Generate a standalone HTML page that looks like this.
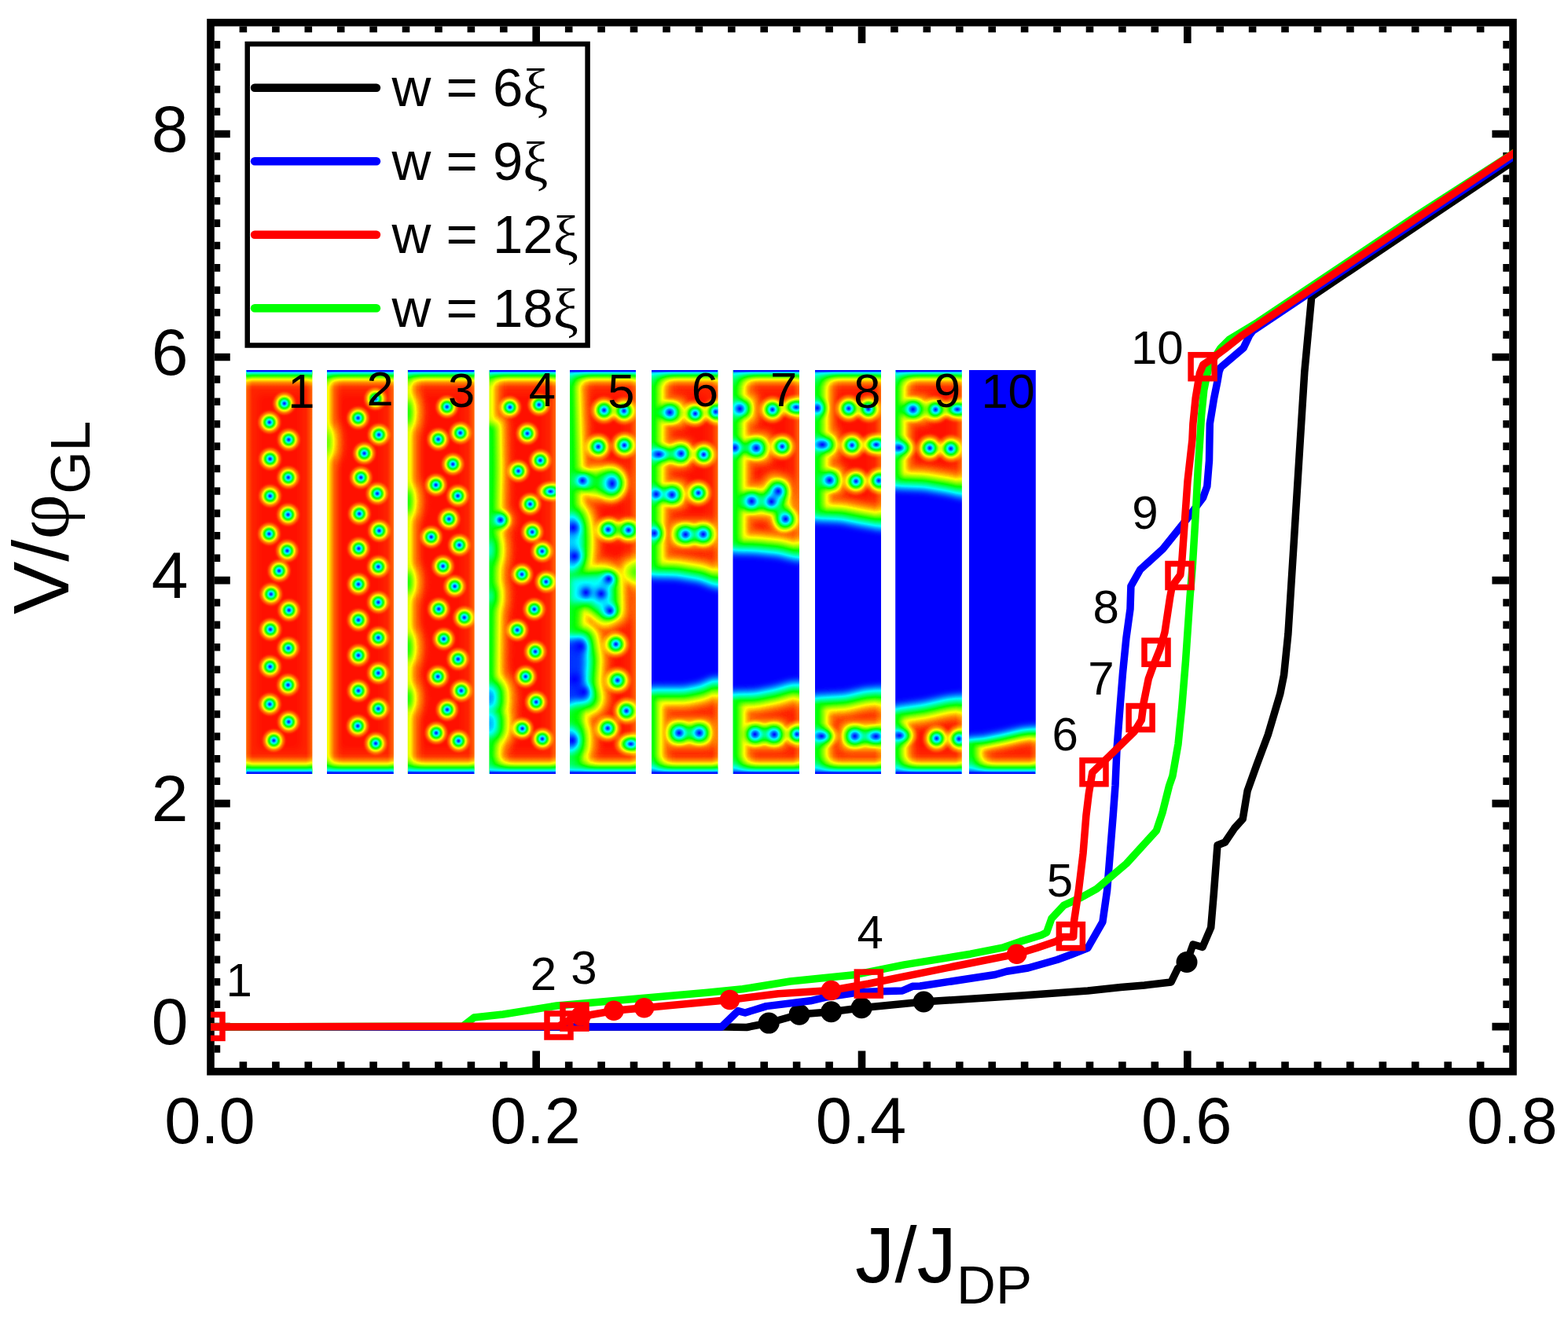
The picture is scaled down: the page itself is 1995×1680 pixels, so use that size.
<!DOCTYPE html><html><head><meta charset="utf-8"><style>html,body{margin:0;padding:0;background:#fff;}svg{display:block;}text{font-family:"Liberation Sans",Arial,sans-serif;fill:#000;}</style></head><body>
<svg width="1995" height="1680" viewBox="0 0 1995 1680">
<rect width="1995" height="1680" fill="#fff"/>
<defs>
<filter id="jet" x="300" y="460" width="1030" height="540" color-interpolation-filters="sRGB" filterUnits="userSpaceOnUse"><feComponentTransfer><feFuncR type="table" tableValues="0 0 0 1 1"/><feFuncG type="table" tableValues="0 1 1 1 0"/><feFuncB type="table" tableValues="1 1 0 0 0"/></feComponentTransfer></filter>
<filter id="b2" filterUnits="userSpaceOnUse" x="280" y="420" width="1080" height="620" color-interpolation-filters="sRGB"><feGaussianBlur stdDeviation="2"/></filter>
<filter id="b3" filterUnits="userSpaceOnUse" x="280" y="420" width="1080" height="620" color-interpolation-filters="sRGB"><feGaussianBlur stdDeviation="3"/></filter>
<filter id="b4" filterUnits="userSpaceOnUse" x="280" y="420" width="1080" height="620" color-interpolation-filters="sRGB"><feGaussianBlur stdDeviation="4"/></filter>
<filter id="b5" filterUnits="userSpaceOnUse" x="280" y="420" width="1080" height="620" color-interpolation-filters="sRGB"><feGaussianBlur stdDeviation="5"/></filter>
<filter id="b6" filterUnits="userSpaceOnUse" x="280" y="420" width="1080" height="620" color-interpolation-filters="sRGB"><feGaussianBlur stdDeviation="6"/></filter>
<filter id="b7" filterUnits="userSpaceOnUse" x="280" y="420" width="1080" height="620" color-interpolation-filters="sRGB"><feGaussianBlur stdDeviation="7"/></filter>
<filter id="b8" filterUnits="userSpaceOnUse" x="280" y="420" width="1080" height="620" color-interpolation-filters="sRGB"><feGaussianBlur stdDeviation="8"/></filter>
<radialGradient id="vg"><stop offset="0" stop-color="#000" stop-opacity="1"/><stop offset="0.105" stop-color="#000" stop-opacity="0.88"/><stop offset="0.21" stop-color="#000" stop-opacity="0.74"/><stop offset="0.372" stop-color="#000" stop-opacity="0.485"/><stop offset="0.556" stop-color="#000" stop-opacity="0.227"/><stop offset="0.717" stop-color="#000" stop-opacity="0.1"/><stop offset="0.9" stop-color="#000" stop-opacity="0.015"/><stop offset="1" stop-color="#000" stop-opacity="0"/></radialGradient>
<linearGradient id="tg" x1="0" y1="0" x2="0" y2="1"><stop offset="0.000" stop-opacity="1"/><stop offset="0.062" stop-opacity="0.97"/><stop offset="0.123" stop-opacity="0.74"/><stop offset="0.269" stop-opacity="0.48"/><stop offset="0.462" stop-opacity="0.22"/><stop offset="0.615" stop-opacity="0.1"/><stop offset="0.808" stop-opacity="0.02"/><stop offset="1.000" stop-opacity="0"/></linearGradient>
<linearGradient id="bg" x1="0" y1="1" x2="0" y2="0"><stop offset="0.000" stop-opacity="1"/><stop offset="0.069" stop-opacity="0.97"/><stop offset="0.154" stop-opacity="0.74"/><stop offset="0.308" stop-opacity="0.48"/><stop offset="0.500" stop-opacity="0.22"/><stop offset="0.654" stop-opacity="0.1"/><stop offset="0.846" stop-opacity="0.02"/><stop offset="1.000" stop-opacity="0"/></linearGradient>
<linearGradient id="lg" x1="0" y1="0" x2="1" y2="0"><stop offset="0" stop-opacity="0.07"/><stop offset="1" stop-opacity="0"/></linearGradient>
<linearGradient id="rg" x1="1" y1="0" x2="0" y2="0"><stop offset="0" stop-opacity="0.07"/><stop offset="1" stop-opacity="0"/></linearGradient>
<clipPath id="cp1"><rect x="313.1" y="471.0" width="84.5" height="514.0"/></clipPath>
<clipPath id="cp2"><rect x="416.0" y="471.0" width="84.9" height="514.0"/></clipPath>
<clipPath id="cp3"><rect x="518.7" y="471.0" width="85.1" height="514.0"/></clipPath>
<clipPath id="cp4"><rect x="622.4" y="471.0" width="84.6" height="514.0"/></clipPath>
<clipPath id="cp5"><rect x="724.9" y="471.0" width="84.2" height="514.0"/></clipPath>
<clipPath id="cp6"><rect x="829.0" y="471.0" width="84.7" height="514.0"/></clipPath>
<clipPath id="cp7"><rect x="932.5" y="471.0" width="84.5" height="514.0"/></clipPath>
<clipPath id="cp8"><rect x="1037.0" y="471.0" width="84.0" height="514.0"/></clipPath>
<clipPath id="cp9"><rect x="1139.2" y="471.0" width="84.7" height="514.0"/></clipPath>
<clipPath id="cp10"><rect x="1233.0" y="471.0" width="84.8" height="514.0"/></clipPath>
</defs>
<g filter="url(#jet)">
<g clip-path="url(#cp1)">
<rect x="313.1" y="471.0" width="84.5" height="514.0" fill="rgb(246,246,246)"/>
<g filter="url(#b6)"><rect x="327.1" y="501.0" width="56.5" height="454.0" fill="#fff" fill-opacity="0.6"/></g>
<rect x="313.1" y="471.0" width="8" height="514.0" fill="url(#lg)"/>
<rect x="389.6" y="471.0" width="8" height="514.0" fill="url(#rg)"/>
<rect x="313.1" y="471.0" width="84.5" height="26" fill="url(#tg)"/>
<rect x="313.1" y="959.0" width="84.5" height="26" fill="url(#bg)"/>
<ellipse cx="361.8" cy="513.5" rx="16.7" ry="16.7" fill="url(#vg)"/>
<ellipse cx="342.8" cy="537.5" rx="16.7" ry="16.7" fill="url(#vg)"/>
<ellipse cx="367.3" cy="559.6" rx="16.7" ry="16.7" fill="url(#vg)"/>
<ellipse cx="343.6" cy="584.1" rx="16.7" ry="16.7" fill="url(#vg)"/>
<ellipse cx="366.8" cy="607.7" rx="16.7" ry="16.7" fill="url(#vg)"/>
<ellipse cx="343.6" cy="631.3" rx="16.7" ry="16.7" fill="url(#vg)"/>
<ellipse cx="366.5" cy="655" rx="16.7" ry="16.7" fill="url(#vg)"/>
<ellipse cx="342.4" cy="679.5" rx="16.7" ry="16.7" fill="url(#vg)"/>
<ellipse cx="365.4" cy="701" rx="16.7" ry="16.7" fill="url(#vg)"/>
<ellipse cx="355.1" cy="726.5" rx="16.7" ry="16.7" fill="url(#vg)"/>
<ellipse cx="344.8" cy="756.2" rx="16.7" ry="16.7" fill="url(#vg)"/>
<ellipse cx="367.7" cy="776.6" rx="16.7" ry="16.7" fill="url(#vg)"/>
<ellipse cx="344" cy="801.1" rx="16.7" ry="16.7" fill="url(#vg)"/>
<ellipse cx="366.9" cy="824.9" rx="16.7" ry="16.7" fill="url(#vg)"/>
<ellipse cx="343.6" cy="848.5" rx="16.7" ry="16.7" fill="url(#vg)"/>
<ellipse cx="366.5" cy="871.8" rx="16.7" ry="16.7" fill="url(#vg)"/>
<ellipse cx="343.2" cy="896.3" rx="16.7" ry="16.7" fill="url(#vg)"/>
<ellipse cx="367.3" cy="918.7" rx="16.7" ry="16.7" fill="url(#vg)"/>
<ellipse cx="348.4" cy="942.5" rx="16.7" ry="16.7" fill="url(#vg)"/>
</g>
<g clip-path="url(#cp2)">
<rect x="416.0" y="471.0" width="84.9" height="514.0" fill="rgb(246,246,246)"/>
<g filter="url(#b6)"><rect x="430.0" y="501.0" width="56.9" height="454.0" fill="#fff" fill-opacity="0.6"/></g>
<rect x="406" y="478" width="14" height="500" fill="rgb(230,230,230)" filter="url(#b4)" style="mix-blend-mode:darken" stroke="rgb(230,230,230)" stroke-width="16" stroke-linejoin="round"/>
<rect x="406" y="478" width="14" height="500" fill="rgb(191,191,191)" filter="url(#b4)" style="mix-blend-mode:darken"/>
<ellipse cx="417" cy="563" rx="3" ry="14" fill="rgb(230,230,230)" filter="url(#b4)" style="mix-blend-mode:darken" stroke="rgb(230,230,230)" stroke-width="32" stroke-linejoin="round"/>
<ellipse cx="417" cy="563" rx="3" ry="14" fill="rgb(191,191,191)" filter="url(#b4)" style="mix-blend-mode:darken" stroke="rgb(191,191,191)" stroke-width="16" stroke-linejoin="round"/>
<ellipse cx="417" cy="563" rx="3" ry="14" fill="rgb(140,140,140)" filter="url(#b4)" style="mix-blend-mode:darken"/>
<rect x="416.0" y="471.0" width="8" height="514.0" fill="url(#lg)"/>
<rect x="492.9" y="471.0" width="8" height="514.0" fill="url(#rg)"/>
<rect x="416.0" y="471.0" width="84.9" height="26" fill="url(#tg)"/>
<rect x="416.0" y="959.0" width="84.9" height="26" fill="url(#bg)"/>
<ellipse cx="477.7" cy="507.6" rx="16.7" ry="16.7" fill="url(#vg)"/>
<ellipse cx="455.6" cy="532" rx="16.7" ry="16.7" fill="url(#vg)"/>
<ellipse cx="482.1" cy="553.3" rx="16.7" ry="16.7" fill="url(#vg)"/>
<ellipse cx="463.5" cy="577" rx="16.7" ry="16.7" fill="url(#vg)"/>
<ellipse cx="459.2" cy="607.7" rx="16.7" ry="16.7" fill="url(#vg)"/>
<ellipse cx="480" cy="628.2" rx="16.7" ry="16.7" fill="url(#vg)"/>
<ellipse cx="457.2" cy="653.9" rx="16.7" ry="16.7" fill="url(#vg)"/>
<ellipse cx="482.4" cy="675.5" rx="16.7" ry="16.7" fill="url(#vg)"/>
<ellipse cx="456.4" cy="698.1" rx="16.7" ry="16.7" fill="url(#vg)"/>
<ellipse cx="481.3" cy="721.3" rx="16.7" ry="16.7" fill="url(#vg)"/>
<ellipse cx="456" cy="743.6" rx="16.7" ry="16.7" fill="url(#vg)"/>
<ellipse cx="481.3" cy="766.6" rx="16.7" ry="16.7" fill="url(#vg)"/>
<ellipse cx="456" cy="789.1" rx="16.7" ry="16.7" fill="url(#vg)"/>
<ellipse cx="481.3" cy="811.6" rx="16.7" ry="16.7" fill="url(#vg)"/>
<ellipse cx="456" cy="834.1" rx="16.7" ry="16.7" fill="url(#vg)"/>
<ellipse cx="481.3" cy="856.6" rx="16.7" ry="16.7" fill="url(#vg)"/>
<ellipse cx="456" cy="879.1" rx="16.7" ry="16.7" fill="url(#vg)"/>
<ellipse cx="481.3" cy="902" rx="16.7" ry="16.7" fill="url(#vg)"/>
<ellipse cx="455.2" cy="924" rx="16.7" ry="16.7" fill="url(#vg)"/>
<ellipse cx="478" cy="946.2" rx="16.7" ry="16.7" fill="url(#vg)"/>
</g>
<g clip-path="url(#cp3)">
<rect x="518.7" y="471.0" width="85.1" height="514.0" fill="rgb(246,246,246)"/>
<g filter="url(#b6)"><rect x="532.7" y="501.0" width="57.1" height="454.0" fill="#fff" fill-opacity="0.6"/></g>
<rect x="508" y="478" width="17" height="500" fill="rgb(230,230,230)" filter="url(#b4)" style="mix-blend-mode:darken" stroke="rgb(230,230,230)" stroke-width="16" stroke-linejoin="round"/>
<rect x="508" y="478" width="17" height="500" fill="rgb(191,191,191)" filter="url(#b4)" style="mix-blend-mode:darken"/>
<ellipse cx="519" cy="525" rx="5" ry="16" fill="rgb(230,230,230)" filter="url(#b4)" style="mix-blend-mode:darken" stroke="rgb(230,230,230)" stroke-width="32" stroke-linejoin="round"/>
<ellipse cx="519" cy="525" rx="5" ry="16" fill="rgb(191,191,191)" filter="url(#b4)" style="mix-blend-mode:darken" stroke="rgb(191,191,191)" stroke-width="16" stroke-linejoin="round"/>
<ellipse cx="519" cy="525" rx="5" ry="16" fill="rgb(128,128,128)" filter="url(#b4)" style="mix-blend-mode:darken"/>
<ellipse cx="519" cy="638" rx="5" ry="16" fill="rgb(230,230,230)" filter="url(#b4)" style="mix-blend-mode:darken" stroke="rgb(230,230,230)" stroke-width="32" stroke-linejoin="round"/>
<ellipse cx="519" cy="638" rx="5" ry="16" fill="rgb(191,191,191)" filter="url(#b4)" style="mix-blend-mode:darken" stroke="rgb(191,191,191)" stroke-width="16" stroke-linejoin="round"/>
<ellipse cx="519" cy="638" rx="5" ry="16" fill="rgb(128,128,128)" filter="url(#b4)" style="mix-blend-mode:darken"/>
<ellipse cx="519" cy="741" rx="5" ry="14" fill="rgb(230,230,230)" filter="url(#b4)" style="mix-blend-mode:darken" stroke="rgb(230,230,230)" stroke-width="32" stroke-linejoin="round"/>
<ellipse cx="519" cy="741" rx="5" ry="14" fill="rgb(191,191,191)" filter="url(#b4)" style="mix-blend-mode:darken" stroke="rgb(191,191,191)" stroke-width="16" stroke-linejoin="round"/>
<ellipse cx="519" cy="741" rx="5" ry="14" fill="rgb(128,128,128)" filter="url(#b4)" style="mix-blend-mode:darken"/>
<ellipse cx="519" cy="824" rx="5" ry="16" fill="rgb(230,230,230)" filter="url(#b4)" style="mix-blend-mode:darken" stroke="rgb(230,230,230)" stroke-width="32" stroke-linejoin="round"/>
<ellipse cx="519" cy="824" rx="5" ry="16" fill="rgb(191,191,191)" filter="url(#b4)" style="mix-blend-mode:darken" stroke="rgb(191,191,191)" stroke-width="16" stroke-linejoin="round"/>
<ellipse cx="519" cy="824" rx="5" ry="16" fill="rgb(128,128,128)" filter="url(#b4)" style="mix-blend-mode:darken"/>
<ellipse cx="519" cy="889" rx="5" ry="13" fill="rgb(230,230,230)" filter="url(#b4)" style="mix-blend-mode:darken" stroke="rgb(230,230,230)" stroke-width="32" stroke-linejoin="round"/>
<ellipse cx="519" cy="889" rx="5" ry="13" fill="rgb(191,191,191)" filter="url(#b4)" style="mix-blend-mode:darken" stroke="rgb(191,191,191)" stroke-width="16" stroke-linejoin="round"/>
<ellipse cx="519" cy="889" rx="5" ry="13" fill="rgb(128,128,128)" filter="url(#b4)" style="mix-blend-mode:darken"/>
<rect x="518.7" y="471.0" width="8" height="514.0" fill="url(#lg)"/>
<rect x="595.8" y="471.0" width="8" height="514.0" fill="url(#rg)"/>
<rect x="518.7" y="471.0" width="85.1" height="26" fill="url(#tg)"/>
<rect x="518.7" y="959.0" width="85.1" height="26" fill="url(#bg)"/>
<ellipse cx="568.7" cy="517.8" rx="16.7" ry="16.7" fill="url(#vg)"/>
<ellipse cx="585.7" cy="551" rx="16.7" ry="16.7" fill="url(#vg)"/>
<ellipse cx="557.6" cy="559.1" rx="16.7" ry="16.7" fill="url(#vg)"/>
<ellipse cx="576.2" cy="590.8" rx="16.7" ry="16.7" fill="url(#vg)"/>
<ellipse cx="554.6" cy="617.2" rx="16.7" ry="16.7" fill="url(#vg)"/>
<ellipse cx="582.5" cy="631.1" rx="16.7" ry="16.7" fill="url(#vg)"/>
<ellipse cx="571.2" cy="660.6" rx="16.7" ry="16.7" fill="url(#vg)"/>
<ellipse cx="548.6" cy="683.4" rx="16.7" ry="16.7" fill="url(#vg)"/>
<ellipse cx="584.4" cy="693.7" rx="16.7" ry="16.7" fill="url(#vg)"/>
<ellipse cx="563.6" cy="720.6" rx="16.7" ry="16.7" fill="url(#vg)"/>
<ellipse cx="578.6" cy="746.2" rx="16.7" ry="16.7" fill="url(#vg)"/>
<ellipse cx="558.2" cy="775.1" rx="16.7" ry="16.7" fill="url(#vg)"/>
<ellipse cx="590.7" cy="785.9" rx="16.7" ry="16.7" fill="url(#vg)"/>
<ellipse cx="564.6" cy="813.2" rx="16.7" ry="16.7" fill="url(#vg)"/>
<ellipse cx="582.8" cy="838.9" rx="16.7" ry="16.7" fill="url(#vg)"/>
<ellipse cx="557.1" cy="861.1" rx="16.7" ry="16.7" fill="url(#vg)"/>
<ellipse cx="586.8" cy="879.1" rx="16.7" ry="16.7" fill="url(#vg)"/>
<ellipse cx="569" cy="903.2" rx="16.7" ry="16.7" fill="url(#vg)"/>
<ellipse cx="555" cy="932.9" rx="16.7" ry="16.7" fill="url(#vg)"/>
<ellipse cx="583.4" cy="943" rx="16.7" ry="16.7" fill="url(#vg)"/>
</g>
<g clip-path="url(#cp4)">
<rect x="622.4" y="471.0" width="84.6" height="514.0" fill="rgb(246,246,246)"/>
<g filter="url(#b6)"><rect x="636.4" y="501.0" width="56.6" height="454.0" fill="#fff" fill-opacity="0.6"/></g>
<rect x="612" y="478" width="18" height="82" fill="rgb(230,230,230)" filter="url(#b4)" style="mix-blend-mode:darken" stroke="rgb(230,230,230)" stroke-width="16" stroke-linejoin="round"/>
<rect x="612" y="478" width="18" height="82" fill="rgb(191,191,191)" filter="url(#b4)" style="mix-blend-mode:darken"/>
<path d="M612.0,540.0L632.0,540.0L633.0,600.0L632.0,650.0L640.0,662.0L632.0,675.0L631.0,760.0L630.0,860.0L632.0,930.0L630.0,975.0L612.0,975.0Z" fill="rgb(230,230,230)" filter="url(#b4)" style="mix-blend-mode:darken" stroke="rgb(230,230,230)" stroke-width="32" stroke-linejoin="round"/>
<path d="M612.0,540.0L632.0,540.0L633.0,600.0L632.0,650.0L640.0,662.0L632.0,675.0L631.0,760.0L630.0,860.0L632.0,930.0L630.0,975.0L612.0,975.0Z" fill="rgb(191,191,191)" filter="url(#b4)" style="mix-blend-mode:darken" stroke="rgb(191,191,191)" stroke-width="16" stroke-linejoin="round"/>
<path d="M612.0,540.0L632.0,540.0L633.0,600.0L632.0,650.0L640.0,662.0L632.0,675.0L631.0,760.0L630.0,860.0L632.0,930.0L630.0,975.0L612.0,975.0Z" fill="rgb(128,128,128)" filter="url(#b4)" style="mix-blend-mode:darken"/>
<ellipse cx="623" cy="700" rx="4" ry="12" fill="rgb(230,230,230)" filter="url(#b4)" style="mix-blend-mode:darken" stroke="rgb(230,230,230)" stroke-width="48" stroke-linejoin="round"/>
<ellipse cx="623" cy="700" rx="4" ry="12" fill="rgb(191,191,191)" filter="url(#b4)" style="mix-blend-mode:darken" stroke="rgb(191,191,191)" stroke-width="32" stroke-linejoin="round"/>
<ellipse cx="623" cy="700" rx="4" ry="12" fill="rgb(128,128,128)" filter="url(#b4)" style="mix-blend-mode:darken" stroke="rgb(128,128,128)" stroke-width="16" stroke-linejoin="round"/>
<ellipse cx="623" cy="700" rx="4" ry="12" fill="rgb(64,64,64)" filter="url(#b4)" style="mix-blend-mode:darken"/>
<ellipse cx="623" cy="759" rx="3" ry="8" fill="rgb(230,230,230)" filter="url(#b4)" style="mix-blend-mode:darken" stroke="rgb(230,230,230)" stroke-width="48" stroke-linejoin="round"/>
<ellipse cx="623" cy="759" rx="3" ry="8" fill="rgb(191,191,191)" filter="url(#b4)" style="mix-blend-mode:darken" stroke="rgb(191,191,191)" stroke-width="32" stroke-linejoin="round"/>
<ellipse cx="623" cy="759" rx="3" ry="8" fill="rgb(128,128,128)" filter="url(#b4)" style="mix-blend-mode:darken" stroke="rgb(128,128,128)" stroke-width="16" stroke-linejoin="round"/>
<ellipse cx="623" cy="759" rx="3" ry="8" fill="rgb(64,64,64)" filter="url(#b4)" style="mix-blend-mode:darken"/>
<ellipse cx="623" cy="888" rx="4" ry="9" fill="rgb(230,230,230)" filter="url(#b4)" style="mix-blend-mode:darken" stroke="rgb(230,230,230)" stroke-width="64" stroke-linejoin="round"/>
<ellipse cx="623" cy="888" rx="4" ry="9" fill="rgb(191,191,191)" filter="url(#b4)" style="mix-blend-mode:darken" stroke="rgb(191,191,191)" stroke-width="48" stroke-linejoin="round"/>
<ellipse cx="623" cy="888" rx="4" ry="9" fill="rgb(128,128,128)" filter="url(#b4)" style="mix-blend-mode:darken" stroke="rgb(128,128,128)" stroke-width="32" stroke-linejoin="round"/>
<ellipse cx="623" cy="888" rx="4" ry="9" fill="rgb(64,64,64)" filter="url(#b4)" style="mix-blend-mode:darken" stroke="rgb(64,64,64)" stroke-width="16" stroke-linejoin="round"/>
<ellipse cx="623" cy="888" rx="4" ry="9" fill="rgb(26,26,26)" filter="url(#b4)" style="mix-blend-mode:darken"/>
<ellipse cx="623" cy="921" rx="4" ry="9" fill="rgb(230,230,230)" filter="url(#b4)" style="mix-blend-mode:darken" stroke="rgb(230,230,230)" stroke-width="64" stroke-linejoin="round"/>
<ellipse cx="623" cy="921" rx="4" ry="9" fill="rgb(191,191,191)" filter="url(#b4)" style="mix-blend-mode:darken" stroke="rgb(191,191,191)" stroke-width="48" stroke-linejoin="round"/>
<ellipse cx="623" cy="921" rx="4" ry="9" fill="rgb(128,128,128)" filter="url(#b4)" style="mix-blend-mode:darken" stroke="rgb(128,128,128)" stroke-width="32" stroke-linejoin="round"/>
<ellipse cx="623" cy="921" rx="4" ry="9" fill="rgb(64,64,64)" filter="url(#b4)" style="mix-blend-mode:darken" stroke="rgb(64,64,64)" stroke-width="16" stroke-linejoin="round"/>
<ellipse cx="623" cy="921" rx="4" ry="9" fill="rgb(38,38,38)" filter="url(#b4)" style="mix-blend-mode:darken"/>
<rect x="622.4" y="471.0" width="8" height="514.0" fill="url(#lg)"/>
<rect x="699.0" y="471.0" width="8" height="514.0" fill="url(#rg)"/>
<rect x="622.4" y="471.0" width="84.6" height="26" fill="url(#tg)"/>
<rect x="622.4" y="959.0" width="84.6" height="26" fill="url(#bg)"/>
<ellipse cx="648.8" cy="518.3" rx="16.7" ry="16.7" fill="url(#vg)"/>
<ellipse cx="685.8" cy="515.1" rx="16.7" ry="16.7" fill="url(#vg)"/>
<ellipse cx="670.9" cy="551.7" rx="16.7" ry="16.7" fill="url(#vg)"/>
<ellipse cx="687.4" cy="586" rx="16.7" ry="16.7" fill="url(#vg)"/>
<ellipse cx="659.5" cy="599.5" rx="16.7" ry="16.7" fill="url(#vg)"/>
<ellipse cx="700.5" cy="625.5" rx="20.9" ry="15.1" fill="url(#vg)"/>
<ellipse cx="674.5" cy="641.6" rx="16.7" ry="16.7" fill="url(#vg)"/>
<ellipse cx="637" cy="661.8" rx="16.7" ry="16.7" fill="url(#vg)"/>
<ellipse cx="677.2" cy="677.1" rx="16.7" ry="16.7" fill="url(#vg)"/>
<ellipse cx="689.8" cy="701.6" rx="16.7" ry="16.7" fill="url(#vg)"/>
<ellipse cx="664" cy="731" rx="16.7" ry="16.7" fill="url(#vg)"/>
<ellipse cx="694.8" cy="740.4" rx="16.7" ry="16.7" fill="url(#vg)"/>
<ellipse cx="679.8" cy="775.4" rx="16.7" ry="16.7" fill="url(#vg)"/>
<ellipse cx="658.1" cy="801.9" rx="16.7" ry="16.7" fill="url(#vg)"/>
<ellipse cx="681.1" cy="829.3" rx="16.7" ry="16.7" fill="url(#vg)"/>
<ellipse cx="668.7" cy="861.1" rx="16.7" ry="16.7" fill="url(#vg)"/>
<ellipse cx="682.2" cy="893.5" rx="16.7" ry="16.7" fill="url(#vg)"/>
<ellipse cx="664.6" cy="927.3" rx="16.7" ry="16.7" fill="url(#vg)"/>
<ellipse cx="690" cy="940.4" rx="16.7" ry="16.7" fill="url(#vg)"/>
</g>
<g clip-path="url(#cp5)">
<rect x="724.9" y="471.0" width="84.2" height="514.0" fill="rgb(246,246,246)"/>
<g filter="url(#b6)"><rect x="738.9" y="501.0" width="56.2" height="454.0" fill="#fff" fill-opacity="0.6"/></g>
<path d="M715.0,478.0L732.0,478.0L734.0,540.0L736.0,600.0L734.0,650.0L741.0,700.0L738.0,800.0L741.0,900.0L738.0,975.0L715.0,975.0Z" fill="rgb(230,230,230)" filter="url(#b4)" style="mix-blend-mode:darken" stroke="rgb(230,230,230)" stroke-width="32" stroke-linejoin="round"/>
<path d="M715.0,478.0L732.0,478.0L734.0,540.0L736.0,600.0L734.0,650.0L741.0,700.0L738.0,800.0L741.0,900.0L738.0,975.0L715.0,975.0Z" fill="rgb(191,191,191)" filter="url(#b4)" style="mix-blend-mode:darken" stroke="rgb(191,191,191)" stroke-width="16" stroke-linejoin="round"/>
<path d="M715.0,478.0L732.0,478.0L734.0,540.0L736.0,600.0L734.0,650.0L741.0,700.0L738.0,800.0L741.0,900.0L738.0,975.0L715.0,975.0Z" fill="rgb(128,128,128)" filter="url(#b4)" style="mix-blend-mode:darken"/>
<ellipse cx="728" cy="690" rx="5" ry="30" fill="rgb(230,230,230)" filter="url(#b4)" style="mix-blend-mode:darken" stroke="rgb(230,230,230)" stroke-width="64" stroke-linejoin="round"/>
<ellipse cx="728" cy="690" rx="5" ry="30" fill="rgb(191,191,191)" filter="url(#b4)" style="mix-blend-mode:darken" stroke="rgb(191,191,191)" stroke-width="48" stroke-linejoin="round"/>
<ellipse cx="728" cy="690" rx="5" ry="30" fill="rgb(128,128,128)" filter="url(#b4)" style="mix-blend-mode:darken" stroke="rgb(128,128,128)" stroke-width="32" stroke-linejoin="round"/>
<ellipse cx="728" cy="690" rx="5" ry="30" fill="rgb(64,64,64)" filter="url(#b4)" style="mix-blend-mode:darken" stroke="rgb(64,64,64)" stroke-width="16" stroke-linejoin="round"/>
<ellipse cx="728" cy="690" rx="5" ry="30" fill="rgb(51,51,51)" filter="url(#b4)" style="mix-blend-mode:darken"/>
<path d="M726.0,735.0L768.0,733.0L778.0,737.0L779.0,777.0L770.0,782.0L750.0,766.0L726.0,768.0Z" fill="rgb(230,230,230)" filter="url(#b4)" style="mix-blend-mode:darken" stroke="rgb(230,230,230)" stroke-width="48" stroke-linejoin="round"/>
<path d="M726.0,735.0L768.0,733.0L778.0,737.0L779.0,777.0L770.0,782.0L750.0,766.0L726.0,768.0Z" fill="rgb(191,191,191)" filter="url(#b4)" style="mix-blend-mode:darken" stroke="rgb(191,191,191)" stroke-width="32" stroke-linejoin="round"/>
<path d="M726.0,735.0L768.0,733.0L778.0,737.0L779.0,777.0L770.0,782.0L750.0,766.0L726.0,768.0Z" fill="rgb(128,128,128)" filter="url(#b4)" style="mix-blend-mode:darken" stroke="rgb(128,128,128)" stroke-width="16" stroke-linejoin="round"/>
<path d="M726.0,735.0L768.0,733.0L778.0,737.0L779.0,777.0L770.0,782.0L750.0,766.0L726.0,768.0Z" fill="rgb(64,64,64)" filter="url(#b4)" style="mix-blend-mode:darken"/>
<path d="M715.0,815.0L740.0,815.0L744.0,840.0L742.0,870.0L746.0,888.0L715.0,895.0Z" fill="rgb(230,230,230)" filter="url(#b4)" style="mix-blend-mode:darken" stroke="rgb(230,230,230)" stroke-width="64" stroke-linejoin="round"/>
<path d="M715.0,815.0L740.0,815.0L744.0,840.0L742.0,870.0L746.0,888.0L715.0,895.0Z" fill="rgb(191,191,191)" filter="url(#b4)" style="mix-blend-mode:darken" stroke="rgb(191,191,191)" stroke-width="48" stroke-linejoin="round"/>
<path d="M715.0,815.0L740.0,815.0L744.0,840.0L742.0,870.0L746.0,888.0L715.0,895.0Z" fill="rgb(128,128,128)" filter="url(#b4)" style="mix-blend-mode:darken" stroke="rgb(128,128,128)" stroke-width="32" stroke-linejoin="round"/>
<path d="M715.0,815.0L740.0,815.0L744.0,840.0L742.0,870.0L746.0,888.0L715.0,895.0Z" fill="rgb(64,64,64)" filter="url(#b4)" style="mix-blend-mode:darken" stroke="rgb(64,64,64)" stroke-width="16" stroke-linejoin="round"/>
<path d="M715.0,815.0L740.0,815.0L744.0,840.0L742.0,870.0L746.0,888.0L715.0,895.0Z" fill="rgb(13,13,13)" filter="url(#b4)" style="mix-blend-mode:darken"/>
<ellipse cx="762" cy="614" rx="25" ry="12" fill="rgb(230,230,230)" filter="url(#b4)" style="mix-blend-mode:darken" stroke="rgb(230,230,230)" stroke-width="32" stroke-linejoin="round"/>
<ellipse cx="762" cy="614" rx="25" ry="12" fill="rgb(191,191,191)" filter="url(#b4)" style="mix-blend-mode:darken" stroke="rgb(191,191,191)" stroke-width="16" stroke-linejoin="round"/>
<ellipse cx="762" cy="614" rx="25" ry="12" fill="rgb(128,128,128)" filter="url(#b4)" style="mix-blend-mode:darken"/>
<ellipse cx="726" cy="942" rx="4" ry="10" fill="rgb(230,230,230)" filter="url(#b4)" style="mix-blend-mode:darken" stroke="rgb(230,230,230)" stroke-width="64" stroke-linejoin="round"/>
<ellipse cx="726" cy="942" rx="4" ry="10" fill="rgb(191,191,191)" filter="url(#b4)" style="mix-blend-mode:darken" stroke="rgb(191,191,191)" stroke-width="48" stroke-linejoin="round"/>
<ellipse cx="726" cy="942" rx="4" ry="10" fill="rgb(128,128,128)" filter="url(#b4)" style="mix-blend-mode:darken" stroke="rgb(128,128,128)" stroke-width="32" stroke-linejoin="round"/>
<ellipse cx="726" cy="942" rx="4" ry="10" fill="rgb(64,64,64)" filter="url(#b4)" style="mix-blend-mode:darken" stroke="rgb(64,64,64)" stroke-width="16" stroke-linejoin="round"/>
<ellipse cx="726" cy="942" rx="4" ry="10" fill="rgb(38,38,38)" filter="url(#b4)" style="mix-blend-mode:darken"/>
<ellipse cx="787" cy="674" rx="14" ry="6" fill="rgb(230,230,230)" filter="url(#b4)" style="mix-blend-mode:darken" stroke="rgb(230,230,230)" stroke-width="16" stroke-linejoin="round"/>
<ellipse cx="787" cy="674" rx="14" ry="6" fill="rgb(191,191,191)" filter="url(#b4)" style="mix-blend-mode:darken"/>
<ellipse cx="806" cy="728" rx="8" ry="8" fill="rgb(230,230,230)" filter="url(#b4)" style="mix-blend-mode:darken" stroke="rgb(230,230,230)" stroke-width="32" stroke-linejoin="round"/>
<ellipse cx="806" cy="728" rx="8" ry="8" fill="rgb(191,191,191)" filter="url(#b4)" style="mix-blend-mode:darken" stroke="rgb(191,191,191)" stroke-width="16" stroke-linejoin="round"/>
<ellipse cx="806" cy="728" rx="8" ry="8" fill="rgb(153,153,153)" filter="url(#b4)" style="mix-blend-mode:darken"/>
<rect x="724.9" y="471.0" width="8" height="514.0" fill="url(#lg)"/>
<rect x="801.1" y="471.0" width="8" height="514.0" fill="url(#rg)"/>
<rect x="724.9" y="471.0" width="84.2" height="26" fill="url(#tg)"/>
<rect x="724.9" y="959.0" width="84.2" height="26" fill="url(#bg)"/>
<ellipse cx="768.6" cy="522.1" rx="20.2" ry="20.2" fill="url(#vg)"/>
<ellipse cx="793.9" cy="523" rx="20.2" ry="20.2" fill="url(#vg)"/>
<ellipse cx="761.2" cy="568.6" rx="20.2" ry="20.2" fill="url(#vg)"/>
<ellipse cx="794.3" cy="566.7" rx="20.2" ry="20.2" fill="url(#vg)"/>
<ellipse cx="741" cy="611.7" rx="20.2" ry="20.2" fill="url(#vg)"/>
<ellipse cx="778.9" cy="615.6" rx="24.2" ry="30.2" fill="url(#vg)"/>
<ellipse cx="773.7" cy="674" rx="20.2" ry="20.2" fill="url(#vg)"/>
<ellipse cx="799.7" cy="674.7" rx="20.2" ry="20.2" fill="url(#vg)"/>
<ellipse cx="774.4" cy="736.9" rx="16.1" ry="16.1" fill="url(#vg)"/>
<ellipse cx="745.5" cy="754.1" rx="16.1" ry="16.1" fill="url(#vg)"/>
<ellipse cx="764.8" cy="755.7" rx="16.1" ry="16.1" fill="url(#vg)"/>
<ellipse cx="776.1" cy="777.5" rx="16.1" ry="16.1" fill="url(#vg)"/>
<ellipse cx="783.6" cy="819.9" rx="20.2" ry="20.2" fill="url(#vg)"/>
<ellipse cx="785.7" cy="865.9" rx="20.2" ry="20.2" fill="url(#vg)"/>
<ellipse cx="797" cy="904.8" rx="20.2" ry="20.2" fill="url(#vg)"/>
<ellipse cx="773.2" cy="926.9" rx="20.2" ry="20.2" fill="url(#vg)"/>
<ellipse cx="802.6" cy="946.9" rx="24.2" ry="18.1" fill="url(#vg)"/>
<ellipse cx="738.3" cy="822.8" rx="18.1" ry="18.1" fill="url(#vg)"/>
<ellipse cx="731.1" cy="864.6" rx="18.1" ry="18.1" fill="url(#vg)"/>
<ellipse cx="742.3" cy="880.7" rx="18.1" ry="18.1" fill="url(#vg)"/>
<ellipse cx="729.2" cy="671.6" rx="18.1" ry="18.1" fill="url(#vg)"/>
<ellipse cx="730.8" cy="707.9" rx="18.1" ry="18.1" fill="url(#vg)"/>
<ellipse cx="727.9" cy="942.5" rx="16.1" ry="16.1" fill="url(#vg)"/>
</g>
<g clip-path="url(#cp6)">
<rect x="829.0" y="471.0" width="84.7" height="514.0" fill="rgb(246,246,246)"/>
<g filter="url(#b6)"><rect x="843.0" y="501.0" width="56.7" height="454.0" fill="#fff" fill-opacity="0.6"/></g>
<rect x="819" y="478" width="19" height="262" fill="rgb(230,230,230)" filter="url(#b4)" style="mix-blend-mode:darken" stroke="rgb(230,230,230)" stroke-width="32" stroke-linejoin="round"/>
<rect x="819" y="478" width="19" height="262" fill="rgb(191,191,191)" filter="url(#b4)" style="mix-blend-mode:darken" stroke="rgb(191,191,191)" stroke-width="16" stroke-linejoin="round"/>
<rect x="819" y="478" width="19" height="262" fill="rgb(128,128,128)" filter="url(#b4)" style="mix-blend-mode:darken"/>
<rect x="829" y="519" width="33" height="12" fill="rgb(230,230,230)" filter="url(#b4)" style="mix-blend-mode:darken" stroke="rgb(230,230,230)" stroke-width="32" stroke-linejoin="round"/>
<rect x="829" y="519" width="33" height="12" fill="rgb(191,191,191)" filter="url(#b4)" style="mix-blend-mode:darken" stroke="rgb(191,191,191)" stroke-width="16" stroke-linejoin="round"/>
<rect x="829" y="519" width="33" height="12" fill="rgb(128,128,128)" filter="url(#b4)" style="mix-blend-mode:darken"/>
<rect x="829" y="573" width="39" height="10" fill="rgb(230,230,230)" filter="url(#b4)" style="mix-blend-mode:darken" stroke="rgb(230,230,230)" stroke-width="32" stroke-linejoin="round"/>
<rect x="829" y="573" width="39" height="10" fill="rgb(191,191,191)" filter="url(#b4)" style="mix-blend-mode:darken" stroke="rgb(191,191,191)" stroke-width="16" stroke-linejoin="round"/>
<rect x="829" y="573" width="39" height="10" fill="rgb(128,128,128)" filter="url(#b4)" style="mix-blend-mode:darken"/>
<rect x="829" y="623" width="33" height="12" fill="rgb(230,230,230)" filter="url(#b4)" style="mix-blend-mode:darken" stroke="rgb(230,230,230)" stroke-width="32" stroke-linejoin="round"/>
<rect x="829" y="623" width="33" height="12" fill="rgb(191,191,191)" filter="url(#b4)" style="mix-blend-mode:darken" stroke="rgb(191,191,191)" stroke-width="16" stroke-linejoin="round"/>
<rect x="829" y="623" width="33" height="12" fill="rgb(128,128,128)" filter="url(#b4)" style="mix-blend-mode:darken"/>
<rect x="862" y="675" width="38" height="10" fill="rgb(230,230,230)" filter="url(#b4)" style="mix-blend-mode:darken" stroke="rgb(230,230,230)" stroke-width="32" stroke-linejoin="round"/>
<rect x="862" y="675" width="38" height="10" fill="rgb(191,191,191)" filter="url(#b4)" style="mix-blend-mode:darken" stroke="rgb(191,191,191)" stroke-width="16" stroke-linejoin="round"/>
<rect x="862" y="675" width="38" height="10" fill="rgb(140,140,140)" filter="url(#b4)" style="mix-blend-mode:darken"/>
<path d="M815.0,735.0L860.0,736.0L890.0,741.0L905.0,747.0L925.0,752.0L925.0,861.0L905.0,863.0L890.0,870.0L870.0,874.0L815.0,874.0Z" fill="rgb(230,230,230)" filter="url(#b4)" style="mix-blend-mode:darken" stroke="rgb(230,230,230)" stroke-width="64" stroke-linejoin="round"/>
<path d="M815.0,735.0L860.0,736.0L890.0,741.0L905.0,747.0L925.0,752.0L925.0,861.0L905.0,863.0L890.0,870.0L870.0,874.0L815.0,874.0Z" fill="rgb(191,191,191)" filter="url(#b4)" style="mix-blend-mode:darken" stroke="rgb(191,191,191)" stroke-width="48" stroke-linejoin="round"/>
<path d="M815.0,735.0L860.0,736.0L890.0,741.0L905.0,747.0L925.0,752.0L925.0,861.0L905.0,863.0L890.0,870.0L870.0,874.0L815.0,874.0Z" fill="rgb(128,128,128)" filter="url(#b4)" style="mix-blend-mode:darken" stroke="rgb(128,128,128)" stroke-width="32" stroke-linejoin="round"/>
<path d="M815.0,735.0L860.0,736.0L890.0,741.0L905.0,747.0L925.0,752.0L925.0,861.0L905.0,863.0L890.0,870.0L870.0,874.0L815.0,874.0Z" fill="rgb(64,64,64)" filter="url(#b4)" style="mix-blend-mode:darken" stroke="rgb(64,64,64)" stroke-width="16" stroke-linejoin="round"/>
<path d="M815.0,735.0L860.0,736.0L890.0,741.0L905.0,747.0L925.0,752.0L925.0,861.0L905.0,863.0L890.0,870.0L870.0,874.0L815.0,874.0Z" fill="rgb(0,0,0)" filter="url(#b4)" style="mix-blend-mode:darken"/>
<rect x="819" y="874" width="17" height="111" fill="rgb(230,230,230)" filter="url(#b4)" style="mix-blend-mode:darken" stroke="rgb(230,230,230)" stroke-width="32" stroke-linejoin="round"/>
<rect x="819" y="874" width="17" height="111" fill="rgb(191,191,191)" filter="url(#b4)" style="mix-blend-mode:darken" stroke="rgb(191,191,191)" stroke-width="16" stroke-linejoin="round"/>
<rect x="819" y="874" width="17" height="111" fill="rgb(128,128,128)" filter="url(#b4)" style="mix-blend-mode:darken"/>
<rect x="856" y="926" width="41" height="13" fill="rgb(230,230,230)" filter="url(#b4)" style="mix-blend-mode:darken" stroke="rgb(230,230,230)" stroke-width="32" stroke-linejoin="round"/>
<rect x="856" y="926" width="41" height="13" fill="rgb(191,191,191)" filter="url(#b4)" style="mix-blend-mode:darken" stroke="rgb(191,191,191)" stroke-width="16" stroke-linejoin="round"/>
<rect x="856" y="926" width="41" height="13" fill="rgb(128,128,128)" filter="url(#b4)" style="mix-blend-mode:darken"/>
<rect x="829.0" y="471.0" width="8" height="514.0" fill="url(#lg)"/>
<rect x="905.7" y="471.0" width="8" height="514.0" fill="url(#rg)"/>
<rect x="829.0" y="471.0" width="84.7" height="26" fill="url(#tg)"/>
<rect x="829.0" y="959.0" width="84.7" height="26" fill="url(#bg)"/>
<ellipse cx="852.2" cy="524.9" rx="20.2" ry="20.2" fill="url(#vg)"/>
<ellipse cx="884.5" cy="526.5" rx="20.2" ry="20.2" fill="url(#vg)"/>
<ellipse cx="910.6" cy="524.1" rx="20.2" ry="20.2" fill="url(#vg)"/>
<ellipse cx="838" cy="578.2" rx="26.2" ry="18.1" fill="url(#vg)"/>
<ellipse cx="866.7" cy="577.3" rx="20.2" ry="20.2" fill="url(#vg)"/>
<ellipse cx="895.3" cy="578.5" rx="20.2" ry="20.2" fill="url(#vg)"/>
<ellipse cx="855" cy="629.8" rx="20.2" ry="20.2" fill="url(#vg)"/>
<ellipse cx="888.5" cy="627.4" rx="20.2" ry="20.2" fill="url(#vg)"/>
<ellipse cx="834.9" cy="629" rx="18.1" ry="18.1" fill="url(#vg)"/>
<ellipse cx="872.2" cy="680.3" rx="20.2" ry="20.2" fill="url(#vg)"/>
<ellipse cx="894.8" cy="680" rx="20.2" ry="20.2" fill="url(#vg)"/>
<ellipse cx="832.5" cy="678.7" rx="18.1" ry="18.1" fill="url(#vg)"/>
<ellipse cx="864" cy="932.9" rx="20.2" ry="20.2" fill="url(#vg)"/>
<ellipse cx="889.8" cy="932.9" rx="20.2" ry="20.2" fill="url(#vg)"/>
</g>
<g clip-path="url(#cp7)">
<rect x="932.5" y="471.0" width="84.5" height="514.0" fill="rgb(246,246,246)"/>
<g filter="url(#b6)"><rect x="946.5" y="501.0" width="56.5" height="454.0" fill="#fff" fill-opacity="0.6"/></g>
<rect x="922" y="478" width="20" height="232" fill="rgb(230,230,230)" filter="url(#b4)" style="mix-blend-mode:darken" stroke="rgb(230,230,230)" stroke-width="32" stroke-linejoin="round"/>
<rect x="922" y="478" width="20" height="232" fill="rgb(191,191,191)" filter="url(#b4)" style="mix-blend-mode:darken" stroke="rgb(191,191,191)" stroke-width="16" stroke-linejoin="round"/>
<rect x="922" y="478" width="20" height="232" fill="rgb(128,128,128)" filter="url(#b4)" style="mix-blend-mode:darken"/>
<rect x="933" y="512" width="19" height="16" fill="rgb(230,230,230)" filter="url(#b4)" style="mix-blend-mode:darken" stroke="rgb(230,230,230)" stroke-width="32" stroke-linejoin="round"/>
<rect x="933" y="512" width="19" height="16" fill="rgb(191,191,191)" filter="url(#b4)" style="mix-blend-mode:darken" stroke="rgb(191,191,191)" stroke-width="16" stroke-linejoin="round"/>
<rect x="933" y="512" width="19" height="16" fill="rgb(128,128,128)" filter="url(#b4)" style="mix-blend-mode:darken"/>
<rect x="933" y="563" width="37" height="14" fill="rgb(230,230,230)" filter="url(#b4)" style="mix-blend-mode:darken" stroke="rgb(230,230,230)" stroke-width="32" stroke-linejoin="round"/>
<rect x="933" y="563" width="37" height="14" fill="rgb(191,191,191)" filter="url(#b4)" style="mix-blend-mode:darken" stroke="rgb(191,191,191)" stroke-width="16" stroke-linejoin="round"/>
<rect x="933" y="563" width="37" height="14" fill="rgb(128,128,128)" filter="url(#b4)" style="mix-blend-mode:darken"/>
<path d="M933.0,628.0L975.0,628.0L985.0,615.0L995.0,618.0L1000.0,650.0L1003.0,665.0L995.0,668.0L985.0,648.0L933.0,648.0Z" fill="rgb(230,230,230)" filter="url(#b4)" style="mix-blend-mode:darken" stroke="rgb(230,230,230)" stroke-width="32" stroke-linejoin="round"/>
<path d="M933.0,628.0L975.0,628.0L985.0,615.0L995.0,618.0L1000.0,650.0L1003.0,665.0L995.0,668.0L985.0,648.0L933.0,648.0Z" fill="rgb(191,191,191)" filter="url(#b4)" style="mix-blend-mode:darken" stroke="rgb(191,191,191)" stroke-width="16" stroke-linejoin="round"/>
<path d="M933.0,628.0L975.0,628.0L985.0,615.0L995.0,618.0L1000.0,650.0L1003.0,665.0L995.0,668.0L985.0,648.0L933.0,648.0Z" fill="rgb(128,128,128)" filter="url(#b4)" style="mix-blend-mode:darken"/>
<path d="M920.0,704.0L960.0,705.0L990.0,708.0L1005.0,712.0L1030.0,717.0L1030.0,866.0L1005.0,868.0L985.0,874.0L960.0,879.0L920.0,880.0Z" fill="rgb(230,230,230)" filter="url(#b4)" style="mix-blend-mode:darken" stroke="rgb(230,230,230)" stroke-width="64" stroke-linejoin="round"/>
<path d="M920.0,704.0L960.0,705.0L990.0,708.0L1005.0,712.0L1030.0,717.0L1030.0,866.0L1005.0,868.0L985.0,874.0L960.0,879.0L920.0,880.0Z" fill="rgb(191,191,191)" filter="url(#b4)" style="mix-blend-mode:darken" stroke="rgb(191,191,191)" stroke-width="48" stroke-linejoin="round"/>
<path d="M920.0,704.0L960.0,705.0L990.0,708.0L1005.0,712.0L1030.0,717.0L1030.0,866.0L1005.0,868.0L985.0,874.0L960.0,879.0L920.0,880.0Z" fill="rgb(128,128,128)" filter="url(#b4)" style="mix-blend-mode:darken" stroke="rgb(128,128,128)" stroke-width="32" stroke-linejoin="round"/>
<path d="M920.0,704.0L960.0,705.0L990.0,708.0L1005.0,712.0L1030.0,717.0L1030.0,866.0L1005.0,868.0L985.0,874.0L960.0,879.0L920.0,880.0Z" fill="rgb(64,64,64)" filter="url(#b4)" style="mix-blend-mode:darken" stroke="rgb(64,64,64)" stroke-width="16" stroke-linejoin="round"/>
<path d="M920.0,704.0L960.0,705.0L990.0,708.0L1005.0,712.0L1030.0,717.0L1030.0,866.0L1005.0,868.0L985.0,874.0L960.0,879.0L920.0,880.0Z" fill="rgb(0,0,0)" filter="url(#b4)" style="mix-blend-mode:darken"/>
<rect x="922" y="880" width="20" height="105" fill="rgb(230,230,230)" filter="url(#b4)" style="mix-blend-mode:darken" stroke="rgb(230,230,230)" stroke-width="32" stroke-linejoin="round"/>
<rect x="922" y="880" width="20" height="105" fill="rgb(191,191,191)" filter="url(#b4)" style="mix-blend-mode:darken" stroke="rgb(191,191,191)" stroke-width="16" stroke-linejoin="round"/>
<rect x="922" y="880" width="20" height="105" fill="rgb(128,128,128)" filter="url(#b4)" style="mix-blend-mode:darken"/>
<rect x="955" y="928" width="35" height="13" fill="rgb(230,230,230)" filter="url(#b4)" style="mix-blend-mode:darken" stroke="rgb(230,230,230)" stroke-width="32" stroke-linejoin="round"/>
<rect x="955" y="928" width="35" height="13" fill="rgb(191,191,191)" filter="url(#b4)" style="mix-blend-mode:darken" stroke="rgb(191,191,191)" stroke-width="16" stroke-linejoin="round"/>
<rect x="955" y="928" width="35" height="13" fill="rgb(128,128,128)" filter="url(#b4)" style="mix-blend-mode:darken"/>
<rect x="932.5" y="471.0" width="8" height="514.0" fill="url(#lg)"/>
<rect x="1009.0" y="471.0" width="8" height="514.0" fill="url(#rg)"/>
<rect x="932.5" y="471.0" width="84.5" height="26" fill="url(#tg)"/>
<rect x="932.5" y="959.0" width="84.5" height="26" fill="url(#bg)"/>
<ellipse cx="941.3" cy="520.2" rx="20.2" ry="20.2" fill="url(#vg)"/>
<ellipse cx="982.8" cy="521.3" rx="20.2" ry="20.2" fill="url(#vg)"/>
<ellipse cx="1013" cy="518.3" rx="26.2" ry="18.1" fill="url(#vg)"/>
<ellipse cx="935" cy="569.9" rx="18.1" ry="18.1" fill="url(#vg)"/>
<ellipse cx="962.3" cy="570.3" rx="20.2" ry="20.2" fill="url(#vg)"/>
<ellipse cx="995.2" cy="568.3" rx="20.2" ry="20.2" fill="url(#vg)"/>
<ellipse cx="956.3" cy="638" rx="20.2" ry="20.2" fill="url(#vg)"/>
<ellipse cx="981.5" cy="638.5" rx="20.2" ry="20.2" fill="url(#vg)"/>
<ellipse cx="990.2" cy="625.1" rx="20.2" ry="20.2" fill="url(#vg)"/>
<ellipse cx="999.6" cy="660.6" rx="20.2" ry="20.2" fill="url(#vg)"/>
<ellipse cx="960.5" cy="934.5" rx="20.2" ry="20.2" fill="url(#vg)"/>
<ellipse cx="985.1" cy="934.8" rx="20.2" ry="20.2" fill="url(#vg)"/>
<ellipse cx="1014" cy="934.5" rx="20.2" ry="20.2" fill="url(#vg)"/>
</g>
<g clip-path="url(#cp8)">
<rect x="1037.0" y="471.0" width="84.0" height="514.0" fill="rgb(246,246,246)"/>
<g filter="url(#b6)"><rect x="1051.0" y="501.0" width="56.0" height="454.0" fill="#fff" fill-opacity="0.6"/></g>
<rect x="1027" y="478" width="20" height="192" fill="rgb(230,230,230)" filter="url(#b4)" style="mix-blend-mode:darken" stroke="rgb(230,230,230)" stroke-width="32" stroke-linejoin="round"/>
<rect x="1027" y="478" width="20" height="192" fill="rgb(191,191,191)" filter="url(#b4)" style="mix-blend-mode:darken" stroke="rgb(191,191,191)" stroke-width="16" stroke-linejoin="round"/>
<rect x="1027" y="478" width="20" height="192" fill="rgb(128,128,128)" filter="url(#b4)" style="mix-blend-mode:darken"/>
<rect x="1037" y="558" width="18" height="16" fill="rgb(230,230,230)" filter="url(#b4)" style="mix-blend-mode:darken" stroke="rgb(230,230,230)" stroke-width="32" stroke-linejoin="round"/>
<rect x="1037" y="558" width="18" height="16" fill="rgb(191,191,191)" filter="url(#b4)" style="mix-blend-mode:darken" stroke="rgb(191,191,191)" stroke-width="16" stroke-linejoin="round"/>
<rect x="1037" y="558" width="18" height="16" fill="rgb(128,128,128)" filter="url(#b4)" style="mix-blend-mode:darken"/>
<rect x="1037" y="604" width="25" height="14" fill="rgb(230,230,230)" filter="url(#b4)" style="mix-blend-mode:darken" stroke="rgb(230,230,230)" stroke-width="32" stroke-linejoin="round"/>
<rect x="1037" y="604" width="25" height="14" fill="rgb(191,191,191)" filter="url(#b4)" style="mix-blend-mode:darken" stroke="rgb(191,191,191)" stroke-width="16" stroke-linejoin="round"/>
<rect x="1037" y="604" width="25" height="14" fill="rgb(128,128,128)" filter="url(#b4)" style="mix-blend-mode:darken"/>
<path d="M1025.0,663.0L1070.0,665.0L1095.0,670.0L1135.0,677.0L1135.0,873.0L1100.0,876.0L1075.0,882.0L1025.0,885.0Z" fill="rgb(230,230,230)" filter="url(#b4)" style="mix-blend-mode:darken" stroke="rgb(230,230,230)" stroke-width="64" stroke-linejoin="round"/>
<path d="M1025.0,663.0L1070.0,665.0L1095.0,670.0L1135.0,677.0L1135.0,873.0L1100.0,876.0L1075.0,882.0L1025.0,885.0Z" fill="rgb(191,191,191)" filter="url(#b4)" style="mix-blend-mode:darken" stroke="rgb(191,191,191)" stroke-width="48" stroke-linejoin="round"/>
<path d="M1025.0,663.0L1070.0,665.0L1095.0,670.0L1135.0,677.0L1135.0,873.0L1100.0,876.0L1075.0,882.0L1025.0,885.0Z" fill="rgb(128,128,128)" filter="url(#b4)" style="mix-blend-mode:darken" stroke="rgb(128,128,128)" stroke-width="32" stroke-linejoin="round"/>
<path d="M1025.0,663.0L1070.0,665.0L1095.0,670.0L1135.0,677.0L1135.0,873.0L1100.0,876.0L1075.0,882.0L1025.0,885.0Z" fill="rgb(64,64,64)" filter="url(#b4)" style="mix-blend-mode:darken" stroke="rgb(64,64,64)" stroke-width="16" stroke-linejoin="round"/>
<path d="M1025.0,663.0L1070.0,665.0L1095.0,670.0L1135.0,677.0L1135.0,873.0L1100.0,876.0L1075.0,882.0L1025.0,885.0Z" fill="rgb(0,0,0)" filter="url(#b4)" style="mix-blend-mode:darken"/>
<rect x="1027" y="885" width="20" height="100" fill="rgb(230,230,230)" filter="url(#b4)" style="mix-blend-mode:darken" stroke="rgb(230,230,230)" stroke-width="32" stroke-linejoin="round"/>
<rect x="1027" y="885" width="20" height="100" fill="rgb(191,191,191)" filter="url(#b4)" style="mix-blend-mode:darken" stroke="rgb(191,191,191)" stroke-width="16" stroke-linejoin="round"/>
<rect x="1027" y="885" width="20" height="100" fill="rgb(128,128,128)" filter="url(#b4)" style="mix-blend-mode:darken"/>
<rect x="1080" y="930" width="41" height="14" fill="rgb(230,230,230)" filter="url(#b4)" style="mix-blend-mode:darken" stroke="rgb(230,230,230)" stroke-width="32" stroke-linejoin="round"/>
<rect x="1080" y="930" width="41" height="14" fill="rgb(191,191,191)" filter="url(#b4)" style="mix-blend-mode:darken" stroke="rgb(191,191,191)" stroke-width="16" stroke-linejoin="round"/>
<rect x="1080" y="930" width="41" height="14" fill="rgb(128,128,128)" filter="url(#b4)" style="mix-blend-mode:darken"/>
<rect x="1037.0" y="471.0" width="8" height="514.0" fill="url(#lg)"/>
<rect x="1113.0" y="471.0" width="8" height="514.0" fill="url(#rg)"/>
<rect x="1037.0" y="471.0" width="84.0" height="26" fill="url(#tg)"/>
<rect x="1037.0" y="959.0" width="84.0" height="26" fill="url(#bg)"/>
<ellipse cx="1039.9" cy="519.4" rx="18.1" ry="18.1" fill="url(#vg)"/>
<ellipse cx="1079.8" cy="519.9" rx="20.2" ry="20.2" fill="url(#vg)"/>
<ellipse cx="1104.8" cy="520.5" rx="20.2" ry="20.2" fill="url(#vg)"/>
<ellipse cx="1046.2" cy="565.9" rx="26.2" ry="18.1" fill="url(#vg)"/>
<ellipse cx="1084" cy="566.7" rx="20.2" ry="20.2" fill="url(#vg)"/>
<ellipse cx="1114.8" cy="565.9" rx="24.2" ry="18.1" fill="url(#vg)"/>
<ellipse cx="1055.6" cy="611.3" rx="20.2" ry="20.2" fill="url(#vg)"/>
<ellipse cx="1089.1" cy="612.5" rx="20.2" ry="20.2" fill="url(#vg)"/>
<ellipse cx="1118" cy="611.7" rx="20.2" ry="20.2" fill="url(#vg)"/>
<ellipse cx="1045.3" cy="936.9" rx="26.2" ry="18.1" fill="url(#vg)"/>
<ellipse cx="1087.6" cy="936.9" rx="20.2" ry="20.2" fill="url(#vg)"/>
<ellipse cx="1114.4" cy="937.2" rx="24.2" ry="18.1" fill="url(#vg)"/>
</g>
<g clip-path="url(#cp9)">
<rect x="1139.2" y="471.0" width="84.7" height="514.0" fill="rgb(246,246,246)"/>
<g filter="url(#b6)"><rect x="1153.2" y="501.0" width="56.7" height="454.0" fill="#fff" fill-opacity="0.6"/></g>
<rect x="1129" y="478" width="17" height="152" fill="rgb(230,230,230)" filter="url(#b4)" style="mix-blend-mode:darken" stroke="rgb(230,230,230)" stroke-width="32" stroke-linejoin="round"/>
<rect x="1129" y="478" width="17" height="152" fill="rgb(191,191,191)" filter="url(#b4)" style="mix-blend-mode:darken" stroke="rgb(191,191,191)" stroke-width="16" stroke-linejoin="round"/>
<rect x="1129" y="478" width="17" height="152" fill="rgb(128,128,128)" filter="url(#b4)" style="mix-blend-mode:darken"/>
<rect x="1139" y="516" width="33" height="10" fill="rgb(230,230,230)" filter="url(#b4)" style="mix-blend-mode:darken" stroke="rgb(230,230,230)" stroke-width="32" stroke-linejoin="round"/>
<rect x="1139" y="516" width="33" height="10" fill="rgb(191,191,191)" filter="url(#b4)" style="mix-blend-mode:darken" stroke="rgb(191,191,191)" stroke-width="16" stroke-linejoin="round"/>
<rect x="1139" y="516" width="33" height="10" fill="rgb(128,128,128)" filter="url(#b4)" style="mix-blend-mode:darken"/>
<path d="M1125.0,622.0L1175.0,624.0L1205.0,629.0L1235.0,636.0L1235.0,883.0L1205.0,886.0L1175.0,893.0L1125.0,900.0Z" fill="rgb(230,230,230)" filter="url(#b4)" style="mix-blend-mode:darken" stroke="rgb(230,230,230)" stroke-width="64" stroke-linejoin="round"/>
<path d="M1125.0,622.0L1175.0,624.0L1205.0,629.0L1235.0,636.0L1235.0,883.0L1205.0,886.0L1175.0,893.0L1125.0,900.0Z" fill="rgb(191,191,191)" filter="url(#b4)" style="mix-blend-mode:darken" stroke="rgb(191,191,191)" stroke-width="48" stroke-linejoin="round"/>
<path d="M1125.0,622.0L1175.0,624.0L1205.0,629.0L1235.0,636.0L1235.0,883.0L1205.0,886.0L1175.0,893.0L1125.0,900.0Z" fill="rgb(128,128,128)" filter="url(#b4)" style="mix-blend-mode:darken" stroke="rgb(128,128,128)" stroke-width="32" stroke-linejoin="round"/>
<path d="M1125.0,622.0L1175.0,624.0L1205.0,629.0L1235.0,636.0L1235.0,883.0L1205.0,886.0L1175.0,893.0L1125.0,900.0Z" fill="rgb(64,64,64)" filter="url(#b4)" style="mix-blend-mode:darken" stroke="rgb(64,64,64)" stroke-width="16" stroke-linejoin="round"/>
<path d="M1125.0,622.0L1175.0,624.0L1205.0,629.0L1235.0,636.0L1235.0,883.0L1205.0,886.0L1175.0,893.0L1125.0,900.0Z" fill="rgb(0,0,0)" filter="url(#b4)" style="mix-blend-mode:darken"/>
<rect x="1129" y="900" width="18" height="85" fill="rgb(230,230,230)" filter="url(#b4)" style="mix-blend-mode:darken" stroke="rgb(230,230,230)" stroke-width="32" stroke-linejoin="round"/>
<rect x="1129" y="900" width="18" height="85" fill="rgb(191,191,191)" filter="url(#b4)" style="mix-blend-mode:darken" stroke="rgb(191,191,191)" stroke-width="16" stroke-linejoin="round"/>
<rect x="1129" y="900" width="18" height="85" fill="rgb(128,128,128)" filter="url(#b4)" style="mix-blend-mode:darken"/>
<rect x="1139.2" y="471.0" width="8" height="514.0" fill="url(#lg)"/>
<rect x="1215.9" y="471.0" width="8" height="514.0" fill="url(#rg)"/>
<rect x="1139.2" y="471.0" width="84.7" height="26" fill="url(#tg)"/>
<rect x="1139.2" y="959.0" width="84.7" height="26" fill="url(#bg)"/>
<ellipse cx="1161.6" cy="521" rx="20.2" ry="20.2" fill="url(#vg)"/>
<ellipse cx="1190.4" cy="521.3" rx="20.2" ry="20.2" fill="url(#vg)"/>
<ellipse cx="1218" cy="521" rx="26.2" ry="18.1" fill="url(#vg)"/>
<ellipse cx="1183" cy="570.3" rx="20.2" ry="20.2" fill="url(#vg)"/>
<ellipse cx="1209.7" cy="571" rx="20.2" ry="20.2" fill="url(#vg)"/>
<ellipse cx="1143.9" cy="569.9" rx="26.2" ry="18.1" fill="url(#vg)"/>
<ellipse cx="1144.3" cy="936.1" rx="26.2" ry="18.1" fill="url(#vg)"/>
<ellipse cx="1191.7" cy="939.8" rx="20.2" ry="20.2" fill="url(#vg)"/>
<ellipse cx="1220" cy="940.4" rx="20.2" ry="20.2" fill="url(#vg)"/>
</g>
<g clip-path="url(#cp10)">
<rect x="1233.0" y="471.0" width="84.8" height="514.0" fill="rgb(246,246,246)"/>
<g filter="url(#b6)"><rect x="1247.0" y="501.0" width="56.8" height="454.0" fill="#fff" fill-opacity="0.6"/></g>
<path d="M1220.0,440.0L1330.0,440.0L1330.0,923.0L1300.0,926.0L1275.0,932.0L1250.0,937.0L1220.0,939.0Z" fill="rgb(230,230,230)" filter="url(#b4)" style="mix-blend-mode:darken" stroke="rgb(230,230,230)" stroke-width="44.0" stroke-linejoin="round"/>
<path d="M1220.0,440.0L1330.0,440.0L1330.0,923.0L1300.0,926.0L1275.0,932.0L1250.0,937.0L1220.0,939.0Z" fill="rgb(191,191,191)" filter="url(#b4)" style="mix-blend-mode:darken" stroke="rgb(191,191,191)" stroke-width="33.0" stroke-linejoin="round"/>
<path d="M1220.0,440.0L1330.0,440.0L1330.0,923.0L1300.0,926.0L1275.0,932.0L1250.0,937.0L1220.0,939.0Z" fill="rgb(128,128,128)" filter="url(#b4)" style="mix-blend-mode:darken" stroke="rgb(128,128,128)" stroke-width="22.0" stroke-linejoin="round"/>
<path d="M1220.0,440.0L1330.0,440.0L1330.0,923.0L1300.0,926.0L1275.0,932.0L1250.0,937.0L1220.0,939.0Z" fill="rgb(64,64,64)" filter="url(#b4)" style="mix-blend-mode:darken" stroke="rgb(64,64,64)" stroke-width="11.0" stroke-linejoin="round"/>
<path d="M1220.0,440.0L1330.0,440.0L1330.0,923.0L1300.0,926.0L1275.0,932.0L1250.0,937.0L1220.0,939.0Z" fill="rgb(0,0,0)" filter="url(#b4)" style="mix-blend-mode:darken"/>
<rect x="1223" y="939" width="20" height="46" fill="rgb(230,230,230)" filter="url(#b4)" style="mix-blend-mode:darken" stroke="rgb(230,230,230)" stroke-width="32" stroke-linejoin="round"/>
<rect x="1223" y="939" width="20" height="46" fill="rgb(191,191,191)" filter="url(#b4)" style="mix-blend-mode:darken" stroke="rgb(191,191,191)" stroke-width="16" stroke-linejoin="round"/>
<rect x="1223" y="939" width="20" height="46" fill="rgb(128,128,128)" filter="url(#b4)" style="mix-blend-mode:darken"/>
<rect x="1233.0" y="471.0" width="8" height="514.0" fill="url(#lg)"/>
<rect x="1309.8" y="471.0" width="8" height="514.0" fill="url(#rg)"/>
<rect x="1233.0" y="471.0" width="84.8" height="26" fill="url(#tg)"/>
<rect x="1233.0" y="959.0" width="84.8" height="26" fill="url(#bg)"/>
</g>
</g>
<text x="400.4" y="518.6" font-size="61.5" text-anchor="end">1</text>
<text x="500.8" y="516.3" font-size="61.5" text-anchor="end">2</text>
<text x="604.1" y="517.8" font-size="61.5" text-anchor="end">3</text>
<text x="706.9" y="517.0" font-size="61.5" text-anchor="end">4</text>
<text x="807.5" y="518.6" font-size="61.5" text-anchor="end">5</text>
<text x="913.9" y="517.0" font-size="61.5" text-anchor="end">6</text>
<text x="1014.1" y="517.0" font-size="61.5" text-anchor="end">7</text>
<text x="1120.5" y="519.4" font-size="61.5" text-anchor="end">8</text>
<text x="1222.2" y="517.8" font-size="61.5" text-anchor="end">9</text>
<text x="1316.8" y="519.4" font-size="61.5" text-anchor="end">10</text>
<path d="M309.4,1359.0v-7.8M309.4,33.5v7.8M350.9,1359.0v-7.8M350.9,33.5v7.8M392.3,1359.0v-7.8M392.3,33.5v7.8M433.7,1359.0v-7.8M433.7,33.5v7.8M475.1,1359.0v-7.8M475.1,33.5v7.8M516.5,1359.0v-7.8M516.5,33.5v7.8M558.0,1359.0v-7.8M558.0,33.5v7.8M599.4,1359.0v-7.8M599.4,33.5v7.8M640.8,1359.0v-7.8M640.8,33.5v7.8M682.2,1359.0v-21.5M682.2,33.5v21.5M723.7,1359.0v-7.8M723.7,33.5v7.8M765.1,1359.0v-7.8M765.1,33.5v7.8M806.5,1359.0v-7.8M806.5,33.5v7.8M848.0,1359.0v-7.8M848.0,33.5v7.8M889.4,1359.0v-7.8M889.4,33.5v7.8M930.8,1359.0v-7.8M930.8,33.5v7.8M972.2,1359.0v-7.8M972.2,33.5v7.8M1013.6,1359.0v-7.8M1013.6,33.5v7.8M1055.1,1359.0v-7.8M1055.1,33.5v7.8M1096.5,1359.0v-21.5M1096.5,33.5v21.5M1137.9,1359.0v-7.8M1137.9,33.5v7.8M1179.3,1359.0v-7.8M1179.3,33.5v7.8M1220.8,1359.0v-7.8M1220.8,33.5v7.8M1262.2,1359.0v-7.8M1262.2,33.5v7.8M1303.6,1359.0v-7.8M1303.6,33.5v7.8M1345.0,1359.0v-7.8M1345.0,33.5v7.8M1386.5,1359.0v-7.8M1386.5,33.5v7.8M1427.9,1359.0v-7.8M1427.9,33.5v7.8M1469.3,1359.0v-7.8M1469.3,33.5v7.8M1510.8,1359.0v-21.5M1510.8,33.5v21.5M1552.2,1359.0v-7.8M1552.2,33.5v7.8M1593.6,1359.0v-7.8M1593.6,33.5v7.8M1635.0,1359.0v-7.8M1635.0,33.5v7.8M1676.5,1359.0v-7.8M1676.5,33.5v7.8M1717.9,1359.0v-7.8M1717.9,33.5v7.8M1759.3,1359.0v-7.8M1759.3,33.5v7.8M1800.7,1359.0v-7.8M1800.7,33.5v7.8M1842.2,1359.0v-7.8M1842.2,33.5v7.8M1883.6,1359.0v-7.8M1883.6,33.5v7.8M272.8,1335.0h7.4M1920.2,1335.0h-7.9M272.8,1306.6h20M1920.2,1306.6h-21.8M272.8,1278.2h7.4M1920.2,1278.2h-7.9M272.8,1249.8h7.4M1920.2,1249.8h-7.9M272.8,1221.4h7.4M1920.2,1221.4h-7.9M272.8,1193.0h7.4M1920.2,1193.0h-7.9M272.8,1164.6h7.4M1920.2,1164.6h-7.9M272.8,1136.2h7.4M1920.2,1136.2h-7.9M272.8,1107.8h7.4M1920.2,1107.8h-7.9M272.8,1079.4h7.4M1920.2,1079.4h-7.9M272.8,1051.0h7.4M1920.2,1051.0h-7.9M272.8,1022.6h20M1920.2,1022.6h-21.8M272.8,994.2h7.4M1920.2,994.2h-7.9M272.8,965.8h7.4M1920.2,965.8h-7.9M272.8,937.4h7.4M1920.2,937.4h-7.9M272.8,909.0h7.4M1920.2,909.0h-7.9M272.8,880.6h7.4M1920.2,880.6h-7.9M272.8,852.2h7.4M1920.2,852.2h-7.9M272.8,823.8h7.4M1920.2,823.8h-7.9M272.8,795.4h7.4M1920.2,795.4h-7.9M272.8,767.0h7.4M1920.2,767.0h-7.9M272.8,738.6h20M1920.2,738.6h-21.8M272.8,710.2h7.4M1920.2,710.2h-7.9M272.8,681.8h7.4M1920.2,681.8h-7.9M272.8,653.4h7.4M1920.2,653.4h-7.9M272.8,625.0h7.4M1920.2,625.0h-7.9M272.8,596.5h7.4M1920.2,596.5h-7.9M272.8,568.1h7.4M1920.2,568.1h-7.9M272.8,539.7h7.4M1920.2,539.7h-7.9M272.8,511.3h7.4M1920.2,511.3h-7.9M272.8,482.9h7.4M1920.2,482.9h-7.9M272.8,454.5h20M1920.2,454.5h-21.8M272.8,426.1h7.4M1920.2,426.1h-7.9M272.8,397.7h7.4M1920.2,397.7h-7.9M272.8,369.3h7.4M1920.2,369.3h-7.9M272.8,340.9h7.4M1920.2,340.9h-7.9M272.8,312.5h7.4M1920.2,312.5h-7.9M272.8,284.1h7.4M1920.2,284.1h-7.9M272.8,255.7h7.4M1920.2,255.7h-7.9M272.8,227.3h7.4M1920.2,227.3h-7.9M272.8,198.9h7.4M1920.2,198.9h-7.9M272.8,170.5h20M1920.2,170.5h-21.8M272.8,142.1h7.4M1920.2,142.1h-7.9M272.8,113.7h7.4M1920.2,113.7h-7.9M272.8,85.3h7.4M1920.2,85.3h-7.9M272.8,56.9h7.4M1920.2,56.9h-7.9" stroke="#000" stroke-width="9.6" fill="none"/>
<rect x="268.0" y="28.7" width="1657.0" height="1335.1" fill="none" stroke="#000" stroke-width="9.6"/>
<defs><clipPath id="pc"><rect x="268" y="28.7" width="1657" height="1335"/></clipPath></defs>
<g clip-path="url(#pc)">
<path d="M268.0,1307.0L921.0,1307.0L950.0,1307.5L978.0,1302.0L1017.0,1291.0L1057.6,1287.7L1096.0,1282.8L1175.0,1275.0L1300.0,1267.0L1384.0,1261.0L1426.0,1256.5L1456.0,1254.0L1490.0,1250.0L1498.5,1232.5L1510.0,1224.0L1518.0,1202.0L1530.0,1205.5L1540.7,1180.5L1544.3,1137.6L1549.0,1075.7L1558.6,1072.0L1570.5,1054.3L1581.2,1042.4L1587.1,1006.7L1599.0,973.3L1613.3,935.2L1628.8,882.9L1633.6,859.0L1638.9,806.8L1646.4,687.7L1653.8,568.5L1659.8,473.2L1668.7,377.9L1675.0,373.2L1930.0,202.1" fill="none" stroke="#000" stroke-width="9.5" stroke-linejoin="round"/>
<circle cx="978.2" cy="1302.1" r="13.5" fill="#000"/>
<circle cx="1017" cy="1291.2" r="13.5" fill="#000"/>
<circle cx="1057.6" cy="1287.7" r="13.5" fill="#000"/>
<circle cx="1096.2" cy="1282.8" r="13.5" fill="#000"/>
<circle cx="1175.2" cy="1275" r="13.5" fill="#000"/>
<circle cx="1510" cy="1224.5" r="13.5" fill="#000"/>
<path d="M268.0,1307.0L918.0,1307.0L939.0,1286.6L948.0,1289.0L975.0,1280.6L1031.0,1273.8L1050.0,1269.3L1095.5,1262.6L1148.0,1261.0L1161.0,1255.3L1170.7,1255.0L1266.0,1240.5L1281.0,1236.3L1308.0,1232.0L1345.0,1221.5L1362.6,1215.0L1384.0,1206.5L1402.9,1173.3L1408.6,1133.3L1412.4,1085.7L1416.2,1038.1L1419.0,1000.0L1421.0,953.5L1425.5,894.0L1428.5,856.7L1432.9,812.1L1438.0,775.0L1438.9,746.0L1450.7,725.0L1479.5,698.8L1511.0,659.5L1530.6,633.3L1535.8,619.0L1538.5,586.2L1539.3,539.3L1544.6,507.1L1548.9,485.7L1551.1,472.9L1553.2,467.5L1582.1,442.9L1589.6,427.0L1594.0,421.0L1930.0,196.2" fill="none" stroke="#0000ff" stroke-width="9.5" stroke-linejoin="round"/>
<path d="M268.0,1307.0L589.0,1306.0L603.2,1295.0L640.0,1291.0L708.4,1280.0L900.0,1263.3L945.0,1258.8L1005.3,1249.0L1086.5,1240.8L1150.5,1227.9L1234.7,1214.2L1276.8,1205.8L1297.9,1198.4L1325.3,1190.0L1331.6,1186.8L1337.9,1169.0L1353.3,1152.4L1376.2,1141.9L1395.2,1131.4L1433.3,1099.0L1471.4,1057.1L1479.0,1034.3L1487.6,1000.0L1491.9,987.6L1499.0,947.1L1503.8,899.5L1508.6,840.0L1514.0,760.0L1517.5,717.2L1521.4,651.7L1524.1,599.3L1526.7,560.0L1528.6,528.6L1531.8,496.4L1536.1,475.0L1538.2,466.4L1553.0,443.0L1564.0,432.0L1600.0,410.3L1807.0,271.4L1930.0,192.3" fill="none" stroke="#00ff00" stroke-width="9.5" stroke-linejoin="round"/>
<path d="M268.0,1307.0L711.0,1306.0L731.0,1294.0L744.0,1293.0L781.0,1286.3L819.6,1282.7L928.5,1272.5L990.0,1264.8L1057.5,1260.5L1105.3,1252.0L1213.7,1230.0L1293.7,1214.2L1319.0,1206.5L1344.0,1198.0L1351.4,1192.4L1365.7,1192.4L1366.7,1171.4L1372.4,1133.3L1378.1,1085.7L1381.9,1038.1L1385.3,1010.0L1389.8,983.2L1409.1,964.6L1443.3,931.1L1452.3,916.3L1455.2,894.0L1461.2,864.2L1467.1,847.8L1476.1,825.5L1482.0,804.6L1488.7,760.0L1491.3,746.0L1501.8,731.6L1503.8,713.9L1511.0,612.4L1516.9,560.0L1517.9,539.3L1521.1,507.1L1526.4,475.0L1530.7,464.3L1537.1,460.0L1558.6,444.0L1580.0,427.1L1930.0,192.3" fill="none" stroke="#ff0000" stroke-width="9.5" stroke-linejoin="round"/>
<circle cx="739" cy="1293" r="12.8" fill="#ff0000"/>
<circle cx="781" cy="1286.3" r="12.8" fill="#ff0000"/>
<circle cx="819.6" cy="1282.7" r="12.8" fill="#ff0000"/>
<circle cx="928.5" cy="1272.5" r="12.8" fill="#ff0000"/>
<circle cx="1057.5" cy="1260.5" r="12.8" fill="#ff0000"/>
<circle cx="1293.7" cy="1214.2" r="12.8" fill="#ff0000"/>
<rect x="253.0" y="1291.4" width="30" height="30" fill="none" stroke="#ff0000" stroke-width="7.5"/>
<rect x="696.0" y="1290.0" width="30" height="30" fill="none" stroke="#ff0000" stroke-width="7.5"/>
<rect x="716.0" y="1279.1" width="30" height="30" fill="none" stroke="#ff0000" stroke-width="7.5"/>
<rect x="1090.3" y="1237.1" width="30" height="30" fill="none" stroke="#ff0000" stroke-width="7.5"/>
<rect x="1347.4" y="1176.6" width="30" height="30" fill="none" stroke="#ff0000" stroke-width="7.5"/>
<rect x="1377.0" y="967.8" width="30" height="30" fill="none" stroke="#ff0000" stroke-width="7.5"/>
<rect x="1436.1" y="898.5" width="30" height="30" fill="none" stroke="#ff0000" stroke-width="7.5"/>
<rect x="1456.0" y="815.3" width="30" height="30" fill="none" stroke="#ff0000" stroke-width="7.5"/>
<rect x="1486.0" y="717.5" width="30" height="30" fill="none" stroke="#ff0000" stroke-width="7.5"/>
<rect x="1515.1" y="451.7" width="30" height="30" fill="none" stroke="#ff0000" stroke-width="7.5"/>
</g>
<text x="239.5" y="1329.1" font-size="84" text-anchor="end">0</text>
<text x="239.5" y="1045.1" font-size="84" text-anchor="end">2</text>
<text x="239.5" y="761.1" font-size="84" text-anchor="end">4</text>
<text x="239.5" y="477.0" font-size="84" text-anchor="end">6</text>
<text x="239.5" y="193.0" font-size="84" text-anchor="end">8</text>
<text x="267.0" y="1455" font-size="83" text-anchor="middle">0.0</text>
<text x="681.2" y="1455" font-size="83" text-anchor="middle">0.2</text>
<text x="1095.5" y="1455" font-size="83" text-anchor="middle">0.4</text>
<text x="1509.8" y="1455" font-size="83" text-anchor="middle">0.6</text>
<text x="1924.0" y="1455" font-size="83" text-anchor="middle">0.8</text>
<rect x="314.75" y="56" width="432.85" height="383.5" fill="#fff" stroke="#000" stroke-width="6.5"/>
<line x1="324" y1="111.7" x2="479" y2="111.7" stroke="#000" stroke-width="10.4" stroke-linecap="round"/>
<text x="498.5" y="135.2" font-size="69">w = 6<tspan font-family="Liberation Serif" font-size="72" dy="2.7">ξ</tspan></text>
<line x1="324" y1="205.2" x2="479" y2="205.2" stroke="#0000ff" stroke-width="10.4" stroke-linecap="round"/>
<text x="498.5" y="228.7" font-size="69">w = 9<tspan font-family="Liberation Serif" font-size="72" dy="2.7">ξ</tspan></text>
<line x1="324" y1="298.7" x2="479" y2="298.7" stroke="#ff0000" stroke-width="10.4" stroke-linecap="round"/>
<text x="498.5" y="322.2" font-size="69">w = 12<tspan font-family="Liberation Serif" font-size="72" dy="2.7">ξ</tspan></text>
<line x1="324" y1="392.2" x2="479" y2="392.2" stroke="#00ff00" stroke-width="10.4" stroke-linecap="round"/>
<text x="498.5" y="415.7" font-size="69">w = 18<tspan font-family="Liberation Serif" font-size="72" dy="2.7">ξ</tspan></text>
<text x="287.6" y="1267.6" font-size="60">1</text>
<text x="674.8" y="1260.0" font-size="60">2</text>
<text x="726.3" y="1252.2" font-size="60">3</text>
<text x="1090.5" y="1206.8" font-size="60">4</text>
<text x="1331.8" y="1141.0" font-size="60">5</text>
<text x="1338.5" y="954.6" font-size="60">6</text>
<text x="1384.3" y="883.5" font-size="60">7</text>
<text x="1390.6" y="793.0" font-size="60">8</text>
<text x="1440.3" y="673.3" font-size="60">9</text>
<text x="1438.9" y="462.7" font-size="60">10</text>
<text x="1088" y="1632" font-size="101">J/J<tspan font-size="69" dy="27">DP</tspan></text>
<text transform="translate(86.7,782) rotate(-90)" font-size="101">V/<tspan font-family="Liberation Serif" font-size="100">φ</tspan><tspan font-size="70" dy="27.3">GL</tspan></text>
</svg></body></html>
